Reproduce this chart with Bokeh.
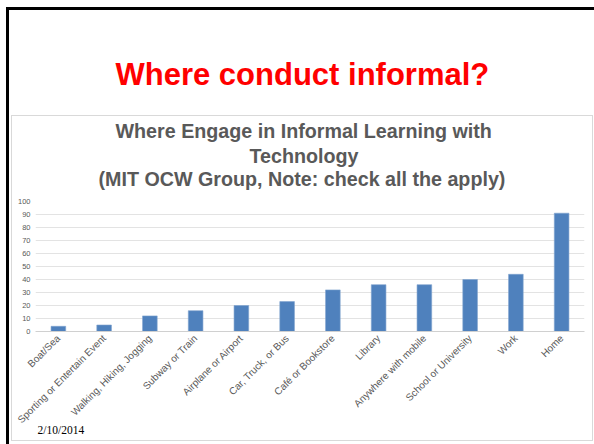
import math
from bokeh.plotting import figure
from bokeh.models import FixedTicker, Range1d, FactorRange, Title
from bokeh.embed import file_html
from bokeh.resources import INLINE

categories = ["Boat/Sea", "Sporting or Entertain Event", "Walking, Hiking, Jogging",
              "Subway or Train", "Airplane or Airport", "Car, Truck, or Bus",
              "Café or Bookstore", "Library", "Anywhere with mobile",
              "School or University", "Work", "Home"]
values = [4, 5, 12, 16, 20, 23, 32, 36, 36, 40, 44, 91]
y_ticks = [0, 10, 20, 30, 40, 50, 60, 70, 80, 90, 100]

slide_title = "Where conduct informal?"
chart_title = ["Where Engage in Informal Learning with", "Technology",
               "(MIT OCW Group, Note: check all the apply)"]
date_text = "2/10/2014"

GRAY = "#595959"

# slide frame (black, left + top) and chart-area box (light gray), drawn as page background
deco = {
    "background-image": ", ".join(["linear-gradient(#000000, #000000)"] * 2
                                  + ["linear-gradient(#D9D9D9, #D9D9D9)"] * 4),
    "background-size": "3px 437px, 588px 3px, 1px 326px, 1px 326px, 582px 1px, 582px 1px",
    "background-position": "6px 7px, 6px 7px, 11px 115px, 592px 115px, 11px 115px, 11px 440px",
    "background-repeat": "no-repeat",
}

p = figure(width=594, height=444, x_range=FactorRange(*categories, range_padding=0),
           y_range=Range1d(0, 100), output_backend="svg", toolbar_location=None, title=None,
           min_border_left=35, min_border_right=10, min_border_top=201, min_border_bottom=113,
           styles=deco)
p.background_fill_color = "white"
p.border_fill_color = None
p.outline_line_color = None

p.vbar(x=categories, top=values, width=0.32, fill_color="#4F81BD",
       line_color="#7FA2CF", line_width=0.6)

p.yaxis.ticker = FixedTicker(ticks=y_ticks)
p.yaxis.axis_line_color = None
p.yaxis.major_tick_out = 0
p.yaxis.major_tick_in = 0
p.yaxis.minor_tick_out = 0
p.yaxis.major_tick_line_color = None
p.yaxis.minor_tick_line_color = None
p.yaxis.major_label_text_font = "Liberation Sans"
p.yaxis.major_label_text_font_size = "7.5px"
p.yaxis.major_label_text_color = GRAY
p.yaxis.major_label_standoff = 5

p.xaxis.axis_line_color = "#D0D0D0"
p.xaxis.major_tick_out = 0
p.xaxis.major_tick_in = 0
p.xaxis.minor_tick_out = 0
p.xaxis.major_tick_line_color = None
p.xaxis.minor_tick_line_color = None
p.xaxis.major_label_orientation = math.pi / 4
p.xaxis.major_label_text_font = "Liberation Sans"
p.xaxis.major_label_text_font_size = "10px"
p.xaxis.major_label_text_color = GRAY
p.xaxis.major_label_standoff = 5

p.xgrid.grid_line_color = None
p.ygrid.grid_line_color = "#E3E3E3"
p.ygrid.ticker = FixedTicker(ticks=y_ticks)

# titles stacked above the frame, innermost first (left-aligned, offset from frame left)
for txt, off, so in [(chart_title[2], 63, 22.6), (chart_title[1], 214, -25.8),
                     (chart_title[0], 80, 24.4)]:
    p.add_layout(Title(text=txt, align="left", offset=off, standoff=so,
                       text_font="Liberation Sans", text_font_style="bold",
                       text_font_size="19.7px", text_color=GRAY), "above")
p.add_layout(Title(text=slide_title, align="left", offset=80, standoff=29.4,
                   text_font="Liberation Sans", text_font_style="bold",
                   text_font_size="31px", text_color="#FF0000"), "above")

p.add_layout(Title(text=date_text, align="left", offset=2, standoff=-18,
                   vertical_align="top",
                   text_font="Liberation Serif", text_font_style="normal",
                   text_font_size="11.5px", text_color="black"), "below")

open("out.html", "w").write(file_html(p, INLINE))
